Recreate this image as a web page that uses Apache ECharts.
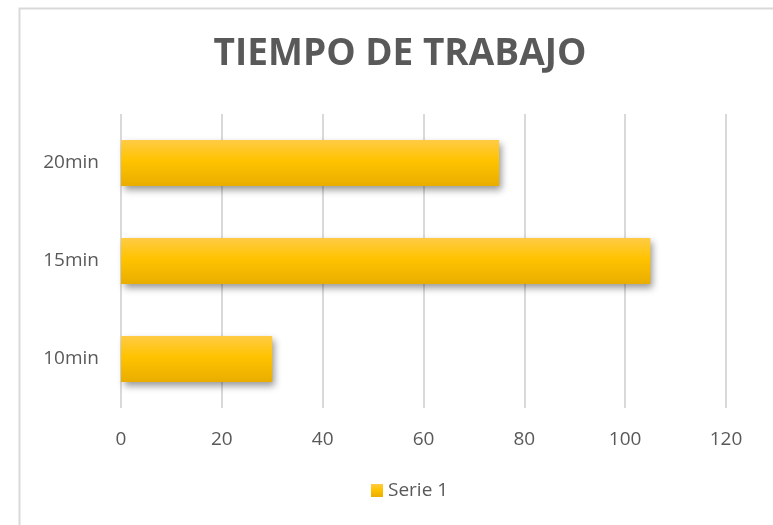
<!DOCTYPE html>
<html>
<head>
<meta charset="utf-8">
<script src="https://cdn.jsdelivr.net/npm/echarts@6/dist/echarts.min.js"></script>
<style>
html,body{margin:0;padding:0;background:#fff;}
#c{width:773px;height:525px;}
</style>
</head>
<body>
<div id="c"></div>
<script>
const titleText = 'TIEMPO DE TRABAJO';
const categories = ['10min', '15min', '20min'];
const seriesName = 'Serie 1';
const values = [30, 105, 75];
const xTicks = [0, 20, 40, 60, 80, 100, 120];

const FONT = "'Open Sans', 'Lato', sans-serif";
const barGradient = new echarts.graphic.LinearGradient(0, 0, 0, 1, [
  {offset: 0, color: '#FFCB45'},
  {offset: 0.45, color: '#FFC300'},
  {offset: 1, color: '#E9AD00'}
]);

const chart = echarts.init(document.getElementById('c'), null, {renderer: 'canvas'});
chart.setOption({
  backgroundColor: '#ffffff',
  animation: false,
  graphic: [{
    type: 'rect',
    shape: {x: 19.5, y: 8.5, width: 800, height: 600},
    style: {fill: 'none', stroke: '#d9d9d9', lineWidth: 2},
    silent: true,
    z: -1
  }],
  title: {
    text: titleText,
    left: 395,
    top: 31,
    textAlign: 'center',
    textStyle: {fontFamily: FONT, fontWeight: 'bold', fontSize: 37, color: '#595959'}
  },
  legend: {
    data: [seriesName],
    bottom: 20,
    left: 366,
    itemWidth: 12,
    itemHeight: 13,
    itemGap: 6,
    icon: 'rect',
    textStyle: {fontFamily: FONT, fontSize: 19, color: '#595959'}
  },
  grid: {left: 121, right: 47, top: 114, bottom: 117, containLabel: false},
  xAxis: {
    type: 'value',
    min: xTicks[0],
    max: xTicks[xTicks.length - 1],
    interval: xTicks[1] - xTicks[0],
    axisLine: {show: false},
    axisTick: {show: false},
    axisLabel: {margin: 22, fontFamily: FONT, fontSize: 19, color: '#595959'},
    splitLine: {show: true, lineStyle: {color: '#d9d9d9', width: 2}}
  },
  yAxis: {
    type: 'category',
    data: categories,
    axisLine: {show: false},
    axisTick: {show: false},
    axisLabel: {margin: 22, fontFamily: FONT, fontSize: 19, color: '#595959'},
    splitLine: {show: false}
  },
  series: [{
    name: seriesName,
    type: 'bar',
    data: values,
    barWidth: 46,
    itemStyle: {
      color: barGradient,
      shadowColor: 'rgba(0,0,0,0.4)',
      shadowBlur: 7,
      shadowOffsetX: 3,
      shadowOffsetY: 4
    }
  }]
});
</script>
</body>
</html>
